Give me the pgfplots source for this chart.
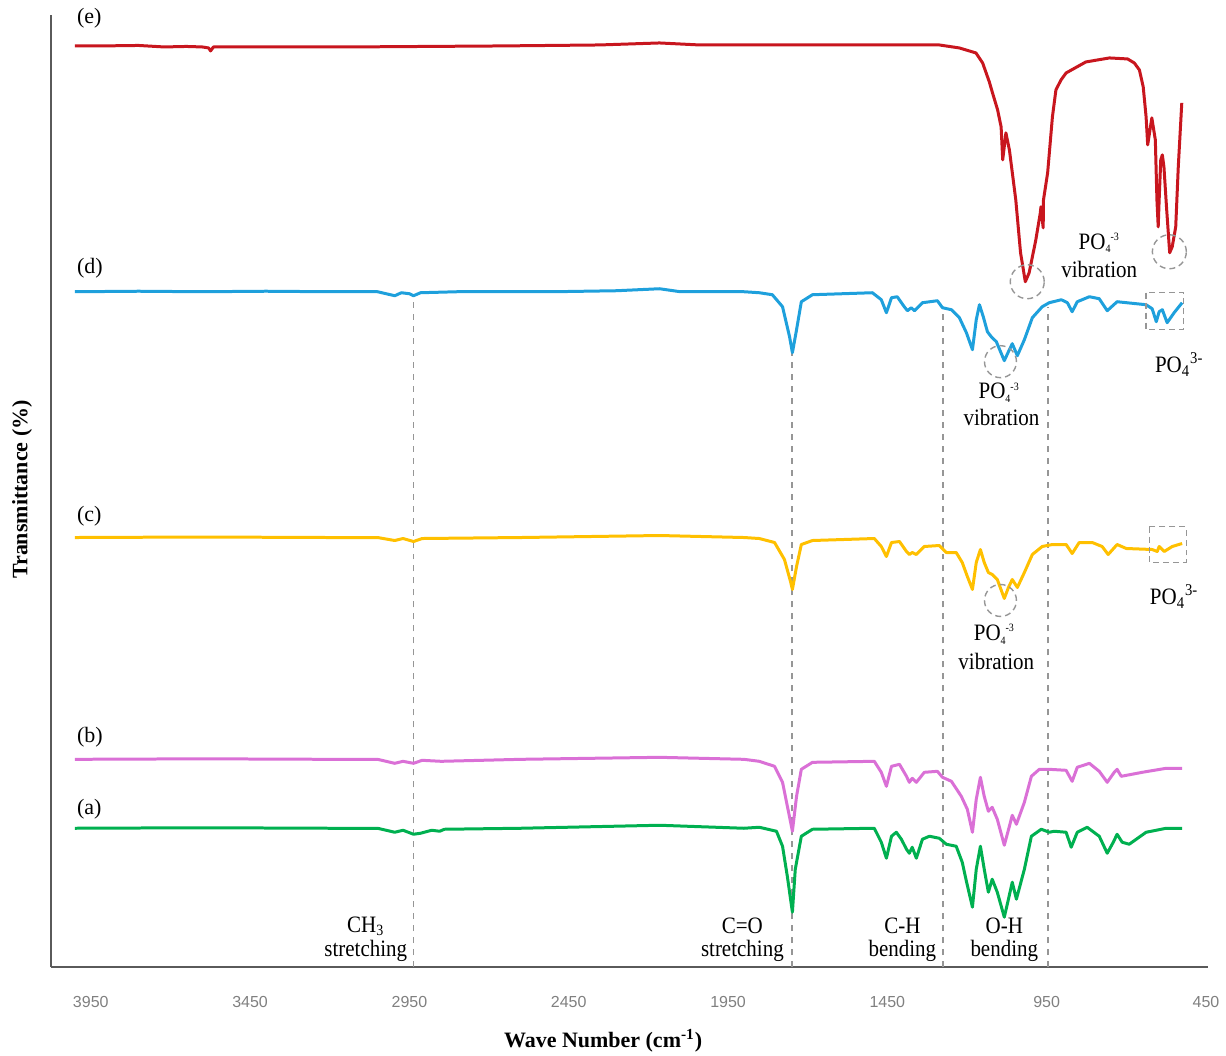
\documentclass[border=0pt]{standalone}
\usepackage{pgfplots}
\pgfplotsset{compat=1.18}
\usetikzlibrary{calc}
\usepackage{fontspec}
\setmainfont{Liberation Serif}
\newfontfamily\arialfont{Liberation Sans}

\definecolor{specE}{RGB}{200,22,30}
\definecolor{specD}{RGB}{30,160,220}
\definecolor{specC}{RGB}{255,192,0}
\definecolor{specB}{RGB}{218,112,214}
\definecolor{specA}{RGB}{0,176,80}
\definecolor{axisgray}{RGB}{90,90,90}
\definecolor{guide}{RGB}{150,150,150}

\newcommand{\POvib}{PO\textsubscript{\tiny 4}\kern-0.5pt\textsuperscript{\tiny -3}}
\newcommand{\POion}{PO\textsubscript{4}\textsuperscript{3-}}

% FTIR spectra, vertically offset (wavenumber in cm^-1, offset transmittance)
\pgfplotstableread{
wn T
4000 922
3922 922
3800 922.5
3720 921
3650 921.5
3600 921
3580 920
3574 917
3565 921
3451 921
3138 921
2667 922
2353 923
2165 925
2040 923
1914 923
1600 923
1412 923
1287 923
1224 920
1172 915
1151 905
1130 886
1120 875
1104 858
1093 841
1088 808
1078 835
1067 818
1047 768
1032 715
1017 686
1005 695
984 728
970 755
968 761
961 740
960 768
947 795
932 851
921 878
905 888
889 895
827 906
753 910
696 909
675 905
659 898
647 881
638 851
633 823
620 850
609 828
604 768
600 741
597 768
592 808
587 813
582 801
574 761
564 715
556 721
545 741
537 801
526 865
}\specE

\pgfplotstableread{
wn T
4000 676
3800 676.5
3600 676
3400 676.5
3200 676
3050 676
2996 672
2975 675
2950 674
2937 672
2915 675
2800 676
2500 676
2300 677
2165 679
2100 676
1900 676
1852 675
1811 673
1779 661
1757 631
1748 615
1735 638
1720 666
1685 673
1497 675
1469 668
1453 655
1437 670
1419 671
1397 661
1387 657
1375 660
1365 657
1340 665
1293 667
1277 660
1249 658
1224 650
1202 635
1183 618
1171 648
1161 663
1149 651
1136 636
1124 631
1108 626
1083 607
1070 616
1058 624
1042 612
1020 628
995 650
964 661
942 665
904 668
885 665
870 656
854 666
816 671
785 669
760 657
729 666
638 663
619 659
606 646
597 656
587 658
572 645
550 655
525 665
}\specD

\pgfplotstableread{
wn T
4000 430
3600 430.5
3200 430
3050 430
2996 427
2970 429
2937 426
2910 429
2600 430
2165 432
1900 430
1852 429
1804 425
1773 408
1754 386
1748 378
1735 401
1720 423
1685 427
1491 429
1469 421
1453 411
1437 425
1412 426
1390 416
1381 413
1372 415
1359 413
1334 421
1287 422
1265 415
1234 415
1215 405
1199 391
1183 378
1171 405
1158 418
1146 405
1133 395
1121 393
1105 388
1083 369
1070 380
1058 388
1042 380
1020 395
995 413
964 421
932 423
889 423
870 414
848 425
807 425
776 421
757 413
729 423
700 419
619 418
603 416
597 421
581 416
556 421
525 424
}\specC

\pgfplotstableread{
wn T
4000 208
3600 208.5
3200 208
3050 208
2996 204
2970 206
2937 204
2910 207
2850 206
2600 208
2165 210
1900 208
1852 206
1804 201
1779 185
1760 155
1748 136
1735 171
1720 198
1685 205
1491 206
1469 195
1453 181
1437 201
1412 203
1390 191
1381 185
1372 189
1359 185
1334 195
1293 196
1277 190
1249 186
1218 171
1199 158
1183 135
1171 168
1158 190
1146 171
1133 156
1121 160
1105 148
1083 122
1067 141
1058 152
1045 143
1020 165
998 191
973 198
942 198
889 197
870 186
854 200
816 204
785 196
760 185
738 195
729 198
716 191
650 195
575 199
525 199
}\specB

\pgfplotstableread{
wn T
4000 139
3600 139.5
3200 139
3050 139
2996 135
2970 137
2937 133
2915 134
2880 137
2855 136
2840 138
2600 139
2165 142
1900 139
1852 140
1798 136
1779 121
1764 91
1748 55
1739 98
1720 131
1685 138
1491 139
1469 125
1453 109
1437 131
1422 135
1406 128
1390 118
1381 114
1372 120
1359 109
1340 128
1318 131
1287 129
1265 123
1234 121
1215 105
1202 86
1183 60
1171 98
1158 121
1146 98
1133 75
1121 88
1105 75
1083 50
1070 68
1058 85
1045 68
1020 98
998 131
967 138
942 135
926 136
889 135
873 120
854 135
823 140
785 131
760 114
741 125
729 133
713 125
691 123
638 135
575 139
525 139
}\specA

\begin{document}
\begin{tikzpicture}
\begin{axis}[
  scale only axis,
  width=579pt, height=476.5pt,
  x dir=reverse,
  xmin=444, xmax=4075,
  ymin=0, ymax=953,
  clip=false,
  axis x line*=bottom,
  axis y line*=left,
  axis line style={-, draw=axisgray, line width=1pt},
  ytick=\empty,
  xtick={3950,3450,2950,2450,1950,1450,950,450},
  xticklabels={3950,3450,2950,2450,1950,1450,950,450},
  major tick length=0pt,
  xticklabel style={font=\arialfont\fontsize{8}{9}\selectfont, text=black!50, anchor=center, yshift=-17.5pt},
  every axis plot/.append style={line width=1.5pt, line join=round, mark=none},
]
% guide lines for the assigned bands
\draw[guide, dashed, line width=0.8pt] (axis cs:2937,0) -- (axis cs:2937,672);
\draw[guide, dashed, line width=0.8pt] (axis cs:1750,0) -- (axis cs:1750,615);
\draw[guide, dashed, line width=0.8pt] (axis cs:1275,0) -- (axis cs:1275,660);
\draw[guide, dashed, line width=0.8pt] (axis cs:946,0) -- (axis cs:946,661);

\addplot[specA] table[x=wn, y=T] {\specA};
\addplot[specB] table[x=wn, y=T] {\specB};
\addplot[specC] table[x=wn, y=T] {\specC};
\addplot[specD] table[x=wn, y=T] {\specD};
\addplot[specE] table[x=wn, y=T] {\specE};

% phosphate markers
\draw[guide, densely dashed, line width=0.7pt] (axis cs:1011,686) circle[radius=8.5pt];
\draw[guide, densely dashed, line width=0.7pt] (axis cs:565,716) circle[radius=8.5pt];
\draw[guide, densely dashed, line width=0.7pt] (axis cs:1095,606) circle[radius=8pt];
\draw[guide, densely dashed, line width=0.7pt] (axis cs:1095,367) circle[radius=8pt];
\draw[guide, densely dashed, line width=0.7pt] (axis cs:638,675) rectangle (axis cs:521,638);
\draw[guide, densely dashed, line width=0.7pt] (axis cs:628,441) rectangle (axis cs:512,405);

% sample labels
\begin{scope}[every node/.style={font=\fontsize{11}{12}\selectfont, anchor=west, inner sep=0pt}]
\node at (axis cs:3994,950) {(e)};
\node at (axis cs:3994,700) {(d)};
\node at (axis cs:3994,451) {(c)};
\node at (axis cs:3994,230) {(b)};
\node at (axis cs:3994,158) {(a)};
\end{scope}

% band assignments
\begin{scope}[every node/.style={font=\fontsize{10.5}{12}\selectfont, inner sep=0pt, align=center, yscale=1.12}]
\node at (axis cs:3087,41) {CH\textsubscript{\scriptsize 3}};
\node at (axis cs:3087,16) {stretching};
\node at (axis cs:1905,41) {C=O};
\node at (axis cs:1905,16) {stretching};
\node at (axis cs:1403,41) {C-H};
\node at (axis cs:1403,16) {bending};
\node at (axis cs:1083,41) {O-H};
\node at (axis cs:1083,16) {bending};

\node at (axis cs:785,725) {\POvib};
\node at (axis cs:785,698) {vibration};
\node at (axis cs:1099,575) {\POvib};
\node at (axis cs:1092,550) {vibration};
\node at (axis cs:1114,333) {\POvib};
\node at (axis cs:1108,306) {vibration};
\node at (axis cs:534,603) {\POion};
\node at (axis cs:550,371) {\POion};
\end{scope}

\node[font=\bfseries\fontsize{11}{12}\selectfont, inner sep=0pt, yshift=-37pt] at (axis cs:2342,0) {Wave Number (cm\textsuperscript{-1})};

\coordinate (ll) at (axis cs:4075,0);
\coordinate (ur) at (axis cs:444,953);
\coordinate (ml) at (axis cs:4075,478);
\end{axis}
\node[font=\bfseries\fontsize{11}{12}\selectfont, inner sep=0pt, rotate=90] at ($(ml)+(-14.5pt,0)$) {Transmittance (\%)};
\path ($(ll)+(-25.5pt,-44pt)$) rectangle ($(ur)+(8.5pt,7.5pt)$);
\end{tikzpicture}
\end{document}
